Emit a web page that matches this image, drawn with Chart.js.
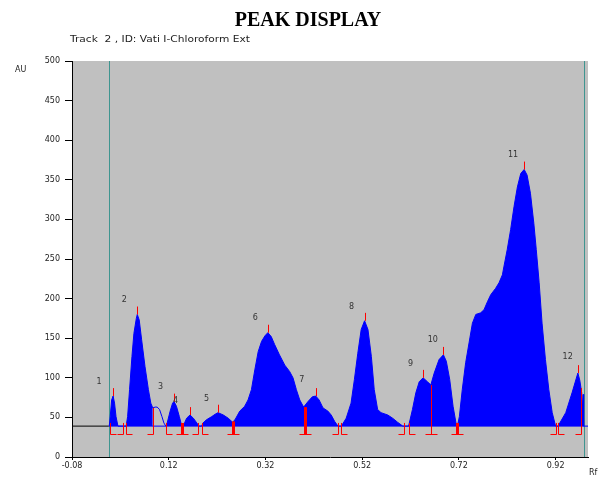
<!DOCTYPE html>
<html>
<head>
<meta charset="utf-8">
<title>Peak Display</title>
<script src="https://cdn.jsdelivr.net/npm/chart.js@4.4.1/dist/chart.umd.min.js"></script>
<style>
  body { margin: 0; background: #fff; }
  #wrap { width: 603px; height: 477px; }
</style>
</head>
<body>
<div id="wrap"><canvas id="peaks" width="603" height="477"></canvas></div>
<script>
// densitogram of track 2, one row per peak so the two lists stay aligned
const profileRf = [
  -0.003, -0.001, 0.002, 0.005, 0.008, 0.011, 0.015,
  0.032, 0.035, 0.039, 0.044, 0.048, 0.053, 0.055, 0.059, 0.064, 0.071, 0.078, 0.083, 0.087,
  0.092, 0.096, 0.101, 0.106, 0.110, 0.114,
  0.116, 0.123, 0.128, 0.131, 0.136, 0.142, 0.147,
  0.150, 0.157, 0.164, 0.171, 0.178, 0.183,
  0.188, 0.191, 0.198, 0.209, 0.216, 0.222, 0.233, 0.243, 0.252,
  0.257, 0.267, 0.277, 0.284, 0.291, 0.298, 0.305, 0.312, 0.319, 0.325, 0.332, 0.339, 0.349, 0.360, 0.370, 0.377, 0.384, 0.391, 0.399,
  0.408, 0.417, 0.424, 0.431, 0.439, 0.449, 0.456, 0.463, 0.470,
  0.477, 0.487, 0.497, 0.504, 0.511, 0.518, 0.525, 0.532, 0.539, 0.545, 0.552, 0.559, 0.573, 0.583, 0.593, 0.604,
  0.616, 0.624, 0.631, 0.638, 0.646, 0.655, 0.662,
  0.669, 0.679, 0.688, 0.694, 0.701, 0.708, 0.714, 0.717,
  0.721, 0.727, 0.734, 0.741, 0.748, 0.755, 0.765, 0.772, 0.779, 0.786, 0.796, 0.803, 0.810, 0.813, 0.820,
  0.827, 0.834, 0.841, 0.848, 0.855, 0.861, 0.868, 0.875, 0.880, 0.886, 0.892, 0.899, 0.906, 0.913, 0.920,
  0.925, 0.941, 0.954, 0.966, 0.970, 0.974, 0.975, 0.977, 0.978
];
const profileAU = [
  39, 51, 72, 77, 68, 51, 39,
  39, 51, 85, 127, 156, 175, 180, 173, 148, 114, 85, 68, 62,
  63, 63, 60, 51, 43, 39,
  41, 58, 68, 70, 64, 51, 39,
  39, 49, 53, 49, 43, 39,
  39, 43, 47, 51, 54, 56, 53, 49, 44,
  47, 58, 64, 72, 85, 110, 133, 146, 153, 157, 152, 142, 129, 116, 108, 100, 85, 72, 63,
  70, 76, 77, 72, 62, 58, 53, 45, 39,
  39, 49, 68, 98, 131, 161, 172, 161, 127, 85, 60, 56, 53, 49, 44, 39,
  39, 60, 81, 95, 100, 95, 91,
  106, 123, 129, 121, 98, 64, 43, 39,
  51, 85, 119, 144, 169, 180, 182, 186, 196, 205, 213, 220, 230, 240, 262,
  287, 316, 341, 358, 363, 356, 333, 295, 262, 220, 169, 123, 85, 56, 39,
  39, 56, 81, 106, 97, 81, 60, 79, 39
];

const baseAU = 39;                 // integration baseline
const trackRf = [-0.004, 0.979];   // application start / solvent front
const openRf = [0.087, 0.114];     // stretch that is not integrated

// peak apexes and their numbers
const peakNo = ['1', '2', '3', '4', '5', '6', '7', '8', '9', '10', '11', '12'];
const apexRf = [0.005, 0.055, 0.131, 0.164, 0.222, 0.325, 0.424, 0.525, 0.646, 0.688, 0.855, 0.966];
const apexAU = [77, 180, 70, 53, 56, 157, 77, 172, 100, 129, 363, 106];
const labelRf = [-0.024, 0.028, 0.103, 0.134, 0.198, 0.299, 0.395, 0.498, 0.620, 0.666, 0.832, 0.945];
const labelAU = [95, 198, 88, 71, 73, 175, 97, 190, 118, 148, 381, 126];

// peak start/end markers: s = start, e = end, j = shared
const boundRf = [-0.002, 0.025, 0.031, 0.088, 0.114, 0.147, 0.181, 0.188, 0.253, 0.402, 0.471, 0.477, 0.606, 0.616, 0.663, 0.717, 0.920, 0.925, 0.972];
const boundTopAU = [43, 43, 43, 62, 43, 43, 43, 43, 45, 63, 43, 43, 43, 43, 91, 43, 43, 43, 87];
const boundKind = ['s', 'e', 's', 'e', 's', 'j', 'e', 's', 'j', 'j', 'e', 's', 'e', 's', 'j', 'j', 'e', 's', 'e'];
const boundHeavy = [0, 0, 0, 0, 0, 1, 0, 0, 1, 1, 0, 0, 0, 0, 0, 1, 0, 0, 0];

const rfTicks = [-0.08, 0.12, 0.32, 0.52, 0.72, 0.92];
const xMin = -0.08, xMax = 0.987;

const BLUE = '#0000ff';
const RED = '#ff0000';
const TEAL = '#3f9590';
const SMALL = '8px "DejaVu Sans"';

function inOpen(c) {
  return c.p0.parsed.x >= openRf[0] - 1e-6 && c.p1.parsed.x <= openRf[1] + 1e-6;
}

const decor = {
  id: 'decor',
  beforeDraw(chart) {
    const { ctx, chartArea: a } = chart;
    ctx.save();
    ctx.fillStyle = '#c0c0c0';
    ctx.fillRect(a.left, a.top, a.right - a.left, a.bottom - a.top);
    ctx.restore();
  },
  beforeDatasetsDraw(chart) {
    const { ctx, chartArea: a, scales } = chart;
    ctx.save();
    ctx.strokeStyle = TEAL;
    ctx.lineWidth = 1;
    trackRf.forEach(r => {
      const px = Math.round(scales.x.getPixelForValue(r)) + 0.5;
      ctx.beginPath();
      ctx.moveTo(px, a.top);
      ctx.lineTo(px, a.bottom);
      ctx.stroke();
    });
    ctx.restore();
  },
  afterDatasetsDraw(chart) {
    const { ctx, scales } = chart;
    const sx = scales.x, sy = scales.y;
    ctx.save();
    ctx.strokeStyle = RED;

    // small tick above each apex
    ctx.lineWidth = 1;
    apexRf.forEach((r, i) => {
      const px = Math.round(sx.getPixelForValue(r)) + 0.5;
      ctx.beginPath();
      ctx.moveTo(px, sy.getPixelForValue(apexAU[i]));
      ctx.lineTo(px, sy.getPixelForValue(apexAU[i] + 10));
      ctx.stroke();
    });

    // start / end brackets below the baseline
    const yb = Math.round(sy.getPixelForValue(29.5)) + 0.5;
    boundRf.forEach((r, i) => {
      const px = Math.round(sx.getPixelForValue(r)) + 0.5;
      ctx.lineWidth = boundHeavy[i] ? 3 : 1;
      ctx.beginPath();
      ctx.moveTo(px, sy.getPixelForValue(boundTopAU[i]));
      ctx.lineTo(px, yb);
      ctx.stroke();
      ctx.lineWidth = 1;
      ctx.beginPath();
      const k = boundKind[i];
      ctx.moveTo(k === 's' ? px : px - 6, yb);
      ctx.lineTo(k === 'e' ? px : px + 6, yb);
      ctx.stroke();
    });

    // peak numbers
    ctx.fillStyle = '#333';
    ctx.font = SMALL;
    ctx.textAlign = 'center';
    ctx.textBaseline = 'middle';
    peakNo.forEach((t, i) => {
      ctx.fillText(t, sx.getPixelForValue(labelRf[i]), sy.getPixelForValue(labelAU[i]));
    });
    ctx.restore();
  },
  afterDraw(chart) {
    const { ctx } = chart;
    ctx.save();
    ctx.fillStyle = '#000';
    ctx.font = 'bold 20px "Liberation Serif"';
    ctx.textAlign = 'center';
    ctx.textBaseline = 'alphabetic';
    ctx.fillText('PEAK DISPLAY', 308, 26);

    ctx.fillStyle = '#222';
    ctx.font = SMALL;
    ctx.textAlign = 'left';
    ctx.textBaseline = 'middle';
    ctx.fillText('AU', 15, 70);
    ctx.fillText('Rf', 589, 473);
    // the track caption is printed wide
    ctx.translate(70, 40);
    ctx.scale(1.33, 1);
    ctx.fillText('Track  2 , ID: Vati I-Chloroform Ext', 0, 0);
    ctx.restore();
  }
};

new Chart(document.getElementById('peaks'), {
  type: 'line',
  data: {
    datasets: [
      {
        data: profileRf.map((x, i) => ({ x: x, y: profileAU[i] })),
        borderColor: BLUE,
        backgroundColor: BLUE,
        borderWidth: 1,
        pointRadius: 0,
        tension: 0,
        fill: { value: baseAU },
        order: 1,
        segment: {
          backgroundColor: c => inOpen(c) ? 'rgba(0,0,0,0)' : BLUE
        }
      },
      {
        data: [{ x: xMin, y: baseAU }, { x: trackRf[0], y: baseAU }],
        borderColor: '#000',
        borderWidth: 1,
        pointRadius: 0,
        fill: false,
        order: 2
      },
      {
        data: [{ x: trackRf[0], y: baseAU }, { x: xMax, y: baseAU }],
        borderColor: BLUE,
        borderWidth: 1,
        pointRadius: 0,
        fill: false,
        order: 3
      }
    ]
  },
  options: {
    responsive: false,
    animation: false,
    devicePixelRatio: 1,
    layout: { padding: { top: 61, right: 15, left: 0, bottom: 0 } },
    plugins: {
      legend: { display: false },
      tooltip: { enabled: false },
      title: { display: false }
    },
    scales: {
      x: {
        type: 'linear',
        min: xMin,
        max: xMax,
        afterBuildTicks: s => { s.ticks = rfTicks.map(v => ({ value: v })); },
        afterFit: s => { s.height = 20; },
        grid: { drawOnChartArea: false, drawTicks: true, tickLength: 3, color: '#000' },
        border: { color: '#000' },
        ticks: {
          autoSkip: false,
          maxRotation: 0,
          padding: 1,
          color: '#222',
          font: { family: 'DejaVu Sans', size: 8 },
          callback: v => v.toFixed(2)
        }
      },
      y: {
        min: 0,
        max: 500,
        afterFit: s => { s.width = 72; },
        grid: { drawOnChartArea: false, drawTicks: true, tickLength: 7, color: '#000' },
        border: { color: '#000' },
        ticks: {
          stepSize: 50,
          padding: 5,
          color: '#222',
          font: { family: 'DejaVu Sans', size: 8 }
        }
      }
    }
  },
  plugins: [decor]
});
</script>
</body>
</html>
